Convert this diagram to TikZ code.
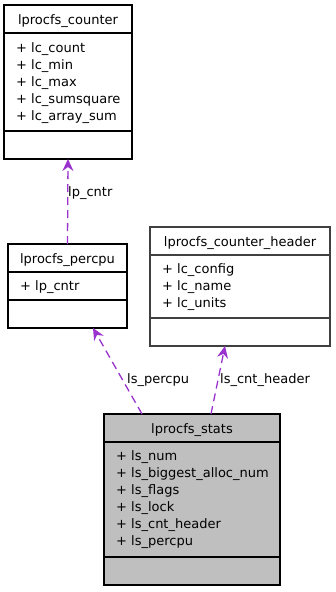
\documentclass[tikz,border=0pt]{standalone}
\usepackage{fontspec}
\setmainfont{DejaVu Sans}
\usetikzlibrary{arrows.meta}
\definecolor{link color}{HTML}{9A32CD}
\colorlet{stats fill color}{black!25}
\tikzset{
    x={1pt},
    y={-1pt},
    class box/.style={
        draw={#1}, fill=white,
        line width={1.3pt},
        anchor=north west,
        inner sep=0pt,
        outer sep=0pt,
    },
    class box/.default={black},
    divider/.style={
        draw={#1},
        line width={1.3pt},
    },
    divider/.default={black},
    class title/.style={
        font={\fontsize{13}{17}\selectfont},
        anchor=base,
        inner sep=0pt,
    },
    class member/.style={
        font={\fontsize{13}{17}\selectfont},
        anchor=base west,
        inner sep=0pt,
    },
    member link/.style={
        draw=link color,
        line width={1.3pt},
        dash pattern=on 8pt off 5pt,
        -{Stealth[length=12pt,width=11pt,inset=4pt]},
    },
    link label/.style={
        font={\fontsize{13}{17}\selectfont},
        anchor=base west,
        inner sep=0pt,
    },
}

\begin{document}
\begin{tikzpicture}
\useasboundingbox (0,0) rectangle (335,592);
% classes
\node[class box, minimum width=128, minimum height=154] (counter) at (4,5) {};
\draw[divider] (4,33) -- (132,33);
\draw[divider] (4,131) -- (132,131);
\node[class title] (counter title) at (68,24) {lprocfs\_counter};
\node[class member] (counter m1) at (16,52) {+ lc\_count};
\node[class member] (counter m2) at (16,69) {+ lc\_min};
\node[class member] (counter m3) at (16,86) {+ lc\_max};
\node[class member] (counter m4) at (16,103) {+ lc\_sumsquare};
\node[class member] (counter m5) at (16,120) {+ lc\_array\_sum};
\node[class box, minimum width=119, minimum height=84] (percpu) at (8,244) {};
\draw[divider] (8,272) -- (127,272);
\draw[divider] (8,300) -- (127,300);
\node[class title] (percpu title) at (67.5,263) {lprocfs\_percpu};
\node[class member] (percpu m1) at (20,290) {+ lp\_cntr};
\node[class box={black!75}, minimum width=180, minimum height=119] (header) at (150,227) {};
\draw[divider={black!75}] (150,255) -- (330,255);
\draw[divider={black!75}] (150,318) -- (330,318);
\node[class title] (header title) at (240,246) {lprocfs\_counter\_header};
\node[class member] (header m1) at (162,273) {+ lc\_config};
\node[class member] (header m2) at (162,290) {+ lc\_name};
\node[class member] (header m3) at (162,307) {+ lc\_units};
\node[class box, fill=stats fill color, minimum width=176, minimum height=171] (stats) at (104,414) {};
\draw[divider] (104,442) -- (280,442);
\draw[divider] (104,557) -- (280,557);
\node[class title] (stats title) at (192,433) {lprocfs\_stats};
\node[class member] (stats m1) at (116,460) {+ ls\_num};
\node[class member] (stats m2) at (116,477) {+ ls\_biggest\_alloc\_num};
\node[class member] (stats m3) at (116,494) {+ ls\_flags};
\node[class member] (stats m4) at (116,511) {+ ls\_lock};
\node[class member] (stats m5) at (116,528) {+ ls\_cnt\_header};
\node[class member] (stats m6) at (116,545) {+ ls\_percpu};
% member links
\draw[member link] (percpu.north) -- (counter.south);
\draw[member link] ([xshift=-50pt]stats.north) -- ([xshift=25.5pt]percpu.south);
\draw[member link] ([xshift=19pt]stats.north) -- ([xshift=-15pt]header.south);
\node[link label] (cntr label) at (68,196) {lp\_cntr};
\node[link label] (percpu label) at (127,383) {ls\_percpu};
\node[link label] (header label) at (220,383) {ls\_cnt\_header};
\end{tikzpicture}
\end{document}
